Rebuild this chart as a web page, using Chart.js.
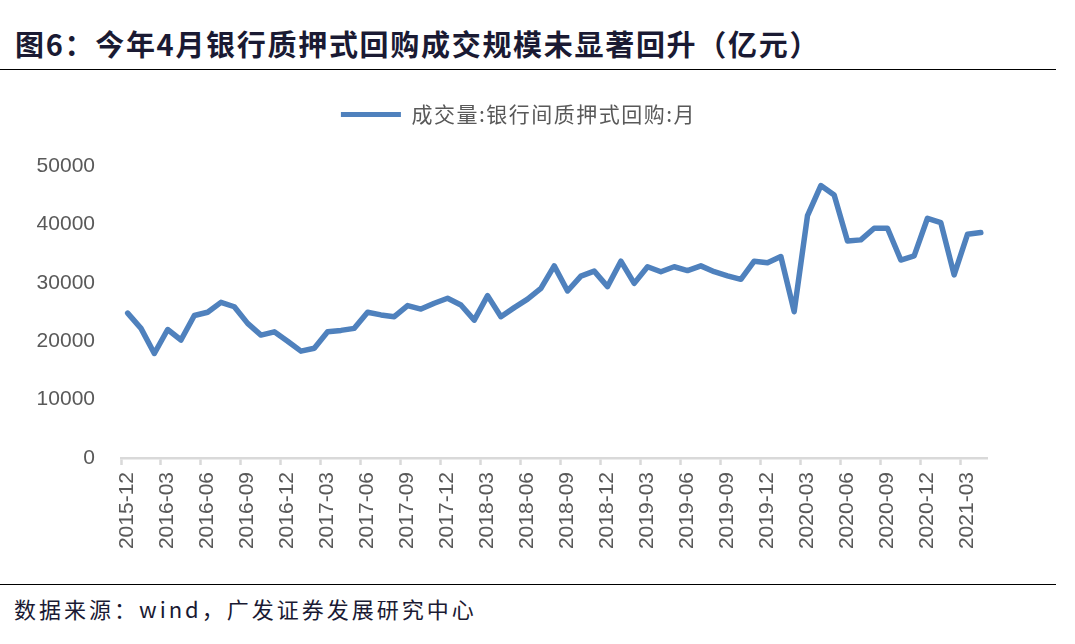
<!DOCTYPE html>
<html>
<head>
<meta charset="utf-8">
<script src="https://cdn.jsdelivr.net/npm/chart.js@4"></script>
<style>
  html, body { margin: 0; padding: 0; background: #fff; }
  body { width: 1075px; height: 644px; position: relative; overflow: hidden; }
  .title {
    position: absolute; left: 15px; top: 25px;
    font: bold 29px "Noto Sans CJK SC", sans-serif; letter-spacing: 1.7px;
    color: #1a1a33; white-space: nowrap; line-height: 36px;
  }
  .rule { position: absolute; left: 0; width: 1056px; height: 0; border-top: 1.5px solid #000; }
  .source {
    position: absolute; left: 14px; top: 594px;
    font: 22px "Noto Sans CJK SC", sans-serif; letter-spacing: 3px;
    color: #1a1a33; white-space: nowrap; line-height: 28px;
  }
  #wrap { position: absolute; left: 0; top: 80px; width: 1013px; height: 495px; }
</style>
</head>
<body>
<div class="title">图6：今年4月银行质押式回购成交规模未显著回升（亿元）</div>
<div class="rule" style="top:69px"></div>
<div id="wrap"><canvas id="chart"></canvas></div>
<div class="rule" style="top:584px"></div>
<div class="source">数据来源：wind，广发证券发展研究中心</div>

<script>
// ── Data (亿元, monthly) ───────────────────────────────────────────
const seriesName = '成交量:银行间质押式回购:月';

const months = [
  '2015-12',
  '2016-01', '2016-02', '2016-03', '2016-04', '2016-05', '2016-06',
  '2016-07', '2016-08', '2016-09', '2016-10', '2016-11', '2016-12',
  '2017-01', '2017-02', '2017-03', '2017-04', '2017-05', '2017-06',
  '2017-07', '2017-08', '2017-09', '2017-10', '2017-11', '2017-12',
  '2018-01', '2018-02', '2018-03', '2018-04', '2018-05', '2018-06',
  '2018-07', '2018-08', '2018-09', '2018-10', '2018-11', '2018-12',
  '2019-01', '2019-02', '2019-03', '2019-04', '2019-05', '2019-06',
  '2019-07', '2019-08', '2019-09', '2019-10', '2019-11', '2019-12',
  '2020-01', '2020-02', '2020-03', '2020-04', '2020-05', '2020-06',
  '2020-07', '2020-08', '2020-09', '2020-10', '2020-11', '2020-12',
  '2021-01', '2021-02', '2021-03', '2021-04',
];

const volume = [
  24800,
  22200, 17900, 22000, 20200, 24400, 24950,
  26650, 25900, 23050, 21050, 21600, 20000,
  18300, 18800, 21600, 21850, 22200, 24950,
  24500, 24200, 26100, 25500, 26500, 27350,
  26200, 23600, 27800, 24200, 25750, 27200,
  29050, 32900, 28600, 31150, 32000, 29350,
  33700, 29900, 32750, 31900, 32750, 32100,
  32900, 31900, 31200, 30600, 33700, 33450,
  34500, 25050, 41500, 46650, 45050, 37150,
  37350, 39350, 39350, 33900, 34600, 41050,
  40300, 31350, 38300, 38600,
];

const yTicks = [0, 10000, 20000, 30000, 40000, 50000];

// ── Chart ─────────────────────────────────────────────────────────
const lineColor = '#4F81BD';
const axisColor = '#D9D9D9';
const textColor = '#595959';

// legend: slightly spaced text, fixed block height, nudged right to sit where the original does
const legendTweak = {
  id: 'legendTweak',
  afterInit(chart) {
    const legend = chart.legend;
    const fit = legend.fit;
    const draw = legend.draw;
    legend.fit = function () {
      chart.ctx.save();
      chart.ctx.letterSpacing = '1.5px';
      fit.apply(this, arguments);
      chart.ctx.restore();
      this.height = 86;
    };
    legend.draw = function () {
      chart.ctx.save();
      chart.ctx.letterSpacing = '1.5px';
      chart.ctx.translate(12, 0);
      draw.apply(this, arguments);
      chart.ctx.restore();
    };
  },
};

new Chart(document.getElementById('chart'), {
  type: 'line',
  data: {
    labels: months,
    datasets: [{
      label: seriesName,
      data: volume,
      borderColor: lineColor,
      backgroundColor: lineColor,
      borderWidth: 5.5,
      borderJoinStyle: 'round',
      borderCapStyle: 'round',
      pointRadius: 0,
      tension: 0,
    }],
  },
  options: {
    responsive: true,
    maintainAspectRatio: false,
    animation: false,
    layout: { padding: 0 },
    plugins: {
      tooltip: { enabled: false },
      legend: {
        position: 'top',
        labels: {
          color: textColor,
          font: { family: '"Noto Sans CJK SC", sans-serif', size: 21 },
          boxWidth: 60,
          boxHeight: 5,
          padding: 24,
          generateLabels: chart => [{
            text: seriesName,
            fillStyle: lineColor,
            strokeStyle: lineColor,
            lineWidth: 0,
            fontColor: textColor,
            datasetIndex: 0,
          }],
        },
      },
    },
    scales: {
      x: {
        offset: true,
        grid: {
          offset: true,
          drawOnChartArea: false,
          tickLength: 7,
          tickWidth: 2.5,
          color: 'transparent',
          tickColor: ctx => (ctx.index !== undefined && ctx.index % 3 === 0) ? axisColor : 'transparent',
        },
        border: { color: axisColor, width: 2.5 },
        ticks: {
          autoSkip: false,
          minRotation: 90,
          maxRotation: 90,
          padding: 7,
          color: textColor,
          font: { family: '"Liberation Sans", Arial, sans-serif', size: 21 },
          callback: (v, i) => (i % 3 === 0 ? months[i] : ''),
        },
        afterFit: scale => { scale.height = 117; },
      },
      y: {
        min: yTicks[0],
        max: yTicks[yTicks.length - 1],
        grid: { display: false, drawTicks: false },
        border: { display: false },
        afterBuildTicks: scale => { scale.ticks = yTicks.map(v => ({ value: v })); },
        ticks: {
          padding: 26,
          color: textColor,
          font: { family: '"Liberation Sans", Arial, sans-serif', size: 21 },
          callback: v => String(v),
        },
        afterFit: scale => { scale.width = 121; },
      },
    },
  },
  plugins: [legendTweak],
});
</script>
</body>
</html>
